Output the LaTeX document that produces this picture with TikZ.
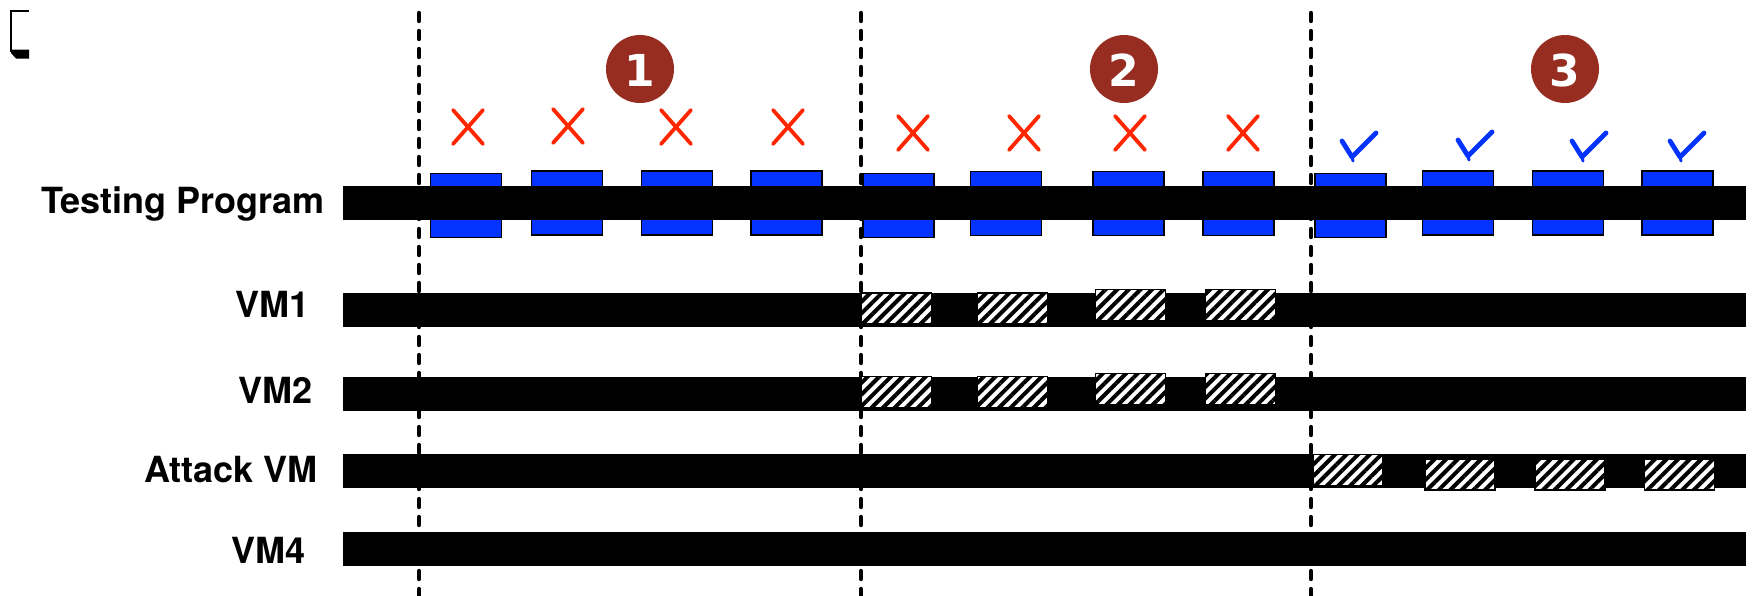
\documentclass[tikz,border=0pt]{standalone}
\usepackage{fontspec}
\setmainfont{TeX Gyre Heros}
\newfontfamily\numfont{DejaVu Sans}
\usetikzlibrary{patterns.meta}

\definecolor{runblue}{HTML}{0433FF}
\definecolor{failred}{HTML}{FF2600}
\definecolor{phasebrown}{RGB}{150,45,32}

\tikzset{
  lane/.style={fill=black, draw=none, inner sep=0pt, outer sep=0pt,
    minimum width=1403pt, minimum height=34pt, anchor=west},
  lanelabel/.style={inner sep=0pt, anchor=base east,
    font=\fontsize{36}{40}\selectfont\bfseries},
  testbox/.style={fill=runblue, draw=black, line width=1.4pt, inner sep=0pt,
    minimum width=71pt, minimum height=64pt},
  loadbox/.style={draw=black, line width=1.4pt, inner sep=0pt,
    minimum width=70pt, minimum height=31pt, preaction={fill=white},
    pattern={Lines[angle=45,distance=8.2pt,line width=4pt]}},
  phasediv/.style={line width=4.4pt, dash pattern=on 8pt off 10pt, line cap=round},
  failmark/.style={draw=failred, line width=3.8pt, line cap=round},
  okmark/.style={draw=runblue, line width=4.8pt, line cap=round, line join=round},
  phasebadge/.style={circle, fill=phasebrown, minimum size=68pt, inner sep=0pt},
  phasenum/.style={text=white, inner sep=0pt, anchor=base,
    font=\numfont\fontsize{44}{48}\selectfont\bfseries},
}

\begin{document}
\begin{tikzpicture}[x=1pt,y=-1pt]
\useasboundingbox (0,0) rectangle (1753,595);

% small corner glyph
\draw[line width=2.6pt] (28.5,11) -- (10.8,11) -- (10.8,52);
\fill (11,49.5) -- (29,49.5) -- (29,58.5) -- (16,58.5) -- (11,53) -- cycle;

% phase separators
\foreach \n/\x in {a/419, b/861, c/1311} {
  \coordinate (div\n top) at (\x,13);
  \coordinate (div\n bot) at (\x,598);
  \draw[phasediv] (div\n top) -- (div\n bot);
}

% runs of the testing program (behind its lane)
\foreach \n/\x/\y in {1/466/205.5, 2/567/203, 3/677/203, 4/786.5/203,
                      5/898.5/205.5, 6/1006/203.5, 7/1128.5/203.5, 8/1238.5/203.5,
                      9/1350.5/205.5, 10/1458/203, 11/1568/203, 12/1677.5/203}
  \node[testbox] (run\n) at (\x,\y) {};

% lanes
\node[lane] (tp)  at (343,203)   {};
\node[lane] (vm1) at (343,310)   {};
\node[lane] (vm2) at (343,393.5) {};
\node[lane] (atk) at (343,471)   {};
\node[lane] (vm4) at (343,548.5) {};

% lane labels
\node[lanelabel] (tpl)  at (325,213) {Testing Program};
\node[lanelabel] (vm1l) at (310,317) {VM1};
\node[lanelabel] (vm2l) at (313,403) {VM2};
\node[lanelabel] (atkl) at (318,482) {Attack VM};
\node[lanelabel] (vm4l) at (306,563) {VM4};

% load on the co-located VMs
\foreach \n/\x/\y in {1/896.5/308.5, 2/1012.5/308.5, 3/1130.5/305, 4/1240.5/305}
  \node[loadbox] (la\n) at (\x,\y) {};
\foreach \n/\x/\y in {1/896.5/392, 2/1012.5/392, 3/1130.5/389, 4/1240.5/389}
  \node[loadbox] (lb\n) at (\x,\y) {};
\foreach \n/\x/\y in {1/1348/470, 2/1460/474.5, 3/1570/474.5, 4/1679.5/474.5}
  \node[loadbox] (lc\n) at (\x,\y) {};

% failed tests
\foreach \n/\x/\y in {1/468/127, 2/568/126, 3/676/127, 4/788/127,
                      5/913/133, 6/1024/133, 7/1130/133, 8/1243/133} {
  \coordinate (fail\n) at (\x,\y);
  \draw[failmark] ([shift={(-15,-17)}]fail\n) -- ([shift={(15,17)}]fail\n);
  \draw[failmark] ([shift={(15,-17)}]fail\n) -- ([shift={(-15,17)}]fail\n);
}

% passed tests
\foreach \n/\x/\y in {1/1352/157, 2/1468/156, 3/1582/157, 4/1680/157} {
  \coordinate (ok\n) at (\x,\y);
  \draw[okmark] ([shift={(-10,-16)}]ok\n) -- (ok\n) -- ([shift={(24,-24)}]ok\n);
  \draw[okmark, line width=3pt] (ok\n) -- ([shift={(1,4)}]ok\n);
}

% phase badges
\foreach \n/\x in {1/640, 2/1124, 3/1565} {
  \node[phasebadge] (badge\n) at (\x,69) {};
  \node[phasenum] (num\n) at (\x,86) {\n};
}
\end{tikzpicture}
\end{document}
